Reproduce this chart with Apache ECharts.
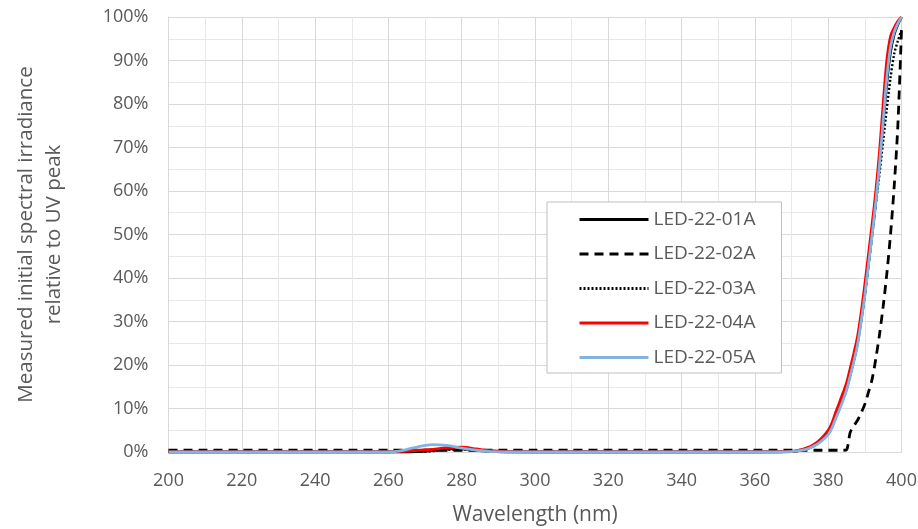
<!DOCTYPE html>
<html>
<head>
<meta charset="utf-8">
<script src="https://cdn.jsdelivr.net/npm/echarts@6/dist/echarts.min.js"></script>
<style>html,body{margin:0;padding:0;background:#fff;}#c{width:918px;height:529px;}</style>
</head>
<body>
<div id="c"></div>
<script>
var wavelengths = [200,210,220,230,240,250,260,264,268,272,276,280,284,288,292,300,310,320,330,340,350,360,366,370,372,374,376,378,380,381,382,383,384,385,386,387,388,389,390,391,392,393,394,395,396,397,398,399,400];
var seriesNames = ['LED-22-01A','LED-22-02A','LED-22-03A','LED-22-04A','LED-22-05A'];
var led01 = [0,0,0,0,0,0, 0,0,0.1,0.3,0.7,0.75,0.4,0.15,0, 0,0,0,0,0,0,0, 0, 0.1,0.3,0.7,1.4,2.6,4.3, 5.8,7.9,10,12.2,14.6,17.8,21.3,25.2,30.6,36.6,43.5,50.5,58,66.5,76,85,92,96,98.3,100];
var led02 = [0.4,0.4,0.4,0.4,0.4,0.4, 0.4,0.4,0.4,0.4,0.4,0.4,0.4,0.4,0.4, 0.4,0.4,0.4,0.4,0.4,0.4,0.4, 0.4, 0.4,0.4,0.4,0.4,0.4,0.4, 0.4,0.4,0.4,0.4,0.5,4.5,6,7.3,9,11,13.8,16.8,21.5,27,33.5,41,50,61,75,97];
var led03 = [0,0,0,0,0,0, 0,0,0.05,0.2,0.5,0.6,0.35,0.1,0, 0,0,0,0,0,0,0, 0, 0.1,0.3,0.7,1.4,2.5,4.2, 5.7,7.8,9.9,12,14.4,17.6,21,25,30.2,36,43,50,57,64,71.5,79,86,91.5,94.5,97];
var led04 = [0,0,0,0,0,0, 0,0.15,0.4,0.6,1.0,1.1,0.7,0.3,0.1, 0,0,0,0,0,0,0, 0.05, 0.15,0.4,0.9,1.7,3.0,5.0, 6.6,9.0,11.2,13.5,15.8,19.2,22.7,26.5,32,38.5,45.5,52.5,60,69,80,90,95.5,97.5,99,100];
var led05 = [0,0,0,0,0,0, 0,0.4,1.2,1.7,1.5,0.9,0.4,0.1,0, 0,0,0,0,0,0,0, 0, 0.1,0.3,0.6,1.3,2.4,4.0, 5.5,7.6,9.6,11.8,14.2,17.4,20.8,24.6,30,36,43,50,57.5,66,76,86,93,96.5,98.5,100];
var xTicks = {min: 200, max: 400, interval: 20};
var yTicks = {min: 0, max: 100, interval: 10};

function pairs(vals){ return wavelengths.map(function(w,i){ return [w, vals[i]]; }); }

var FONT = '"Open Sans", sans-serif';
var TXT = '#595959';
var styles = [
  {color:'#000000', width:2.8, type:'solid'},
  {color:'#000000', width:2.8, type:[9,6]},
  {color:'#000000', width:2.4, type:[2,2]},
  {color:'#ff0000', width:2.8, type:'solid'},
  {color:'#83b4e0', width:2.8, type:'solid'}
];
var allVals = [led01, led02, led03, led04, led05];

var chart = echarts.init(document.getElementById('c'), null, {renderer:'canvas'});
chart.setOption({
  animation: false,
  backgroundColor: '#ffffff',
  grid: {left: 168.5, right: 16.5, top: 17, bottom: 77, containLabel: false, outerBoundsMode: 'none'},
  legend: {
    orient: 'vertical',
    left: 547, top: 202,
    padding: [8, 26, 6, 31],
    itemWidth: 69, itemHeight: 16, itemGap: 15.5,
    backgroundColor: '#ffffff',
    borderColor: '#bfbfbf', borderWidth: 1,
    itemStyle: {color: 'transparent', borderWidth: 0, opacity: 0},
    lineStyle: {width: 3},
    textStyle: {fontFamily: FONT, fontSize: 19, color: TXT},
    data: seriesNames
  },
  xAxis: {
    type: 'value', min: xTicks.min, max: xTicks.max, interval: xTicks.interval,
    name: 'Wavelength (nm)', nameLocation: 'middle', nameGap: 53,
    nameTextStyle: {fontFamily: FONT, fontSize: 21, color: TXT},
    axisLine: {show: true, lineStyle: {color: '#d9d9d9', width: 1}},
    axisTick: {show: false},
    axisLabel: {fontFamily: FONT, fontSize: 18, color: TXT, margin: 20},
    splitLine: {show: true, lineStyle: {color: '#d9d9d9', width: 1}},
    minorTick: {show: false, splitNumber: 2},
    minorSplitLine: {show: true, lineStyle: {color: '#e8e8e8', width: 1}}
  },
  yAxis: {
    type: 'value', min: yTicks.min, max: yTicks.max, interval: yTicks.interval,
    name: 'Measured initial spectral irradiance\nrelative to UV peak',
    nameLocation: 'middle', nameGap: 100, nameRotate: 90,
    nameTextStyle: {fontFamily: FONT, fontSize: 20.5, color: TXT, lineHeight: 28, align: 'center'},
    axisLine: {show: true, lineStyle: {color: '#d9d9d9', width: 1}},
    axisTick: {show: false},
    axisLabel: {fontFamily: FONT, fontSize: 18, color: TXT, margin: 20, formatter: '{value}%'},
    splitLine: {show: true, lineStyle: {color: '#d9d9d9', width: 1}},
    minorTick: {show: false, splitNumber: 2},
    minorSplitLine: {show: true, lineStyle: {color: '#e8e8e8', width: 1}}
  },
  series: seriesNames.map(function(n, i){
    return {
      name: n, type: 'line', data: pairs(allVals[i]),
      symbol: 'none', smooth: 0.3,
      lineStyle: styles[i], itemStyle: {color: styles[i].color},
      emphasis: {disabled: true}
    };
  })
});
</script>
</body>
</html>
